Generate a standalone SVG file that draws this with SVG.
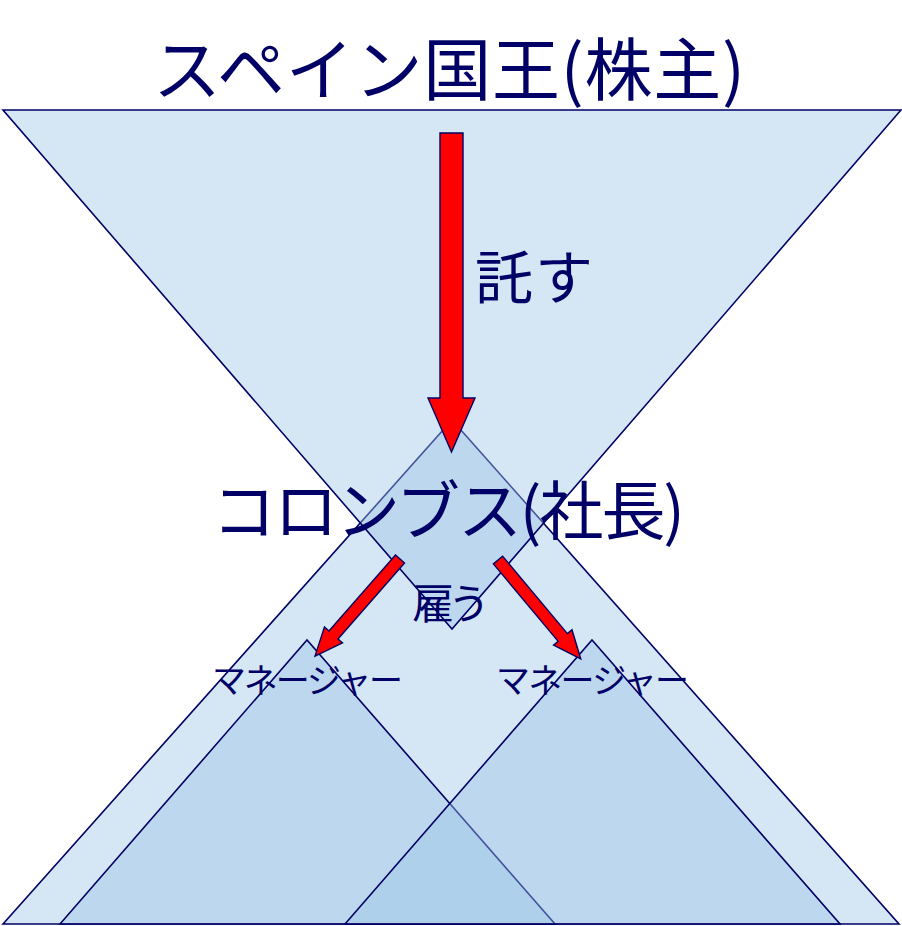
<svg xmlns="http://www.w3.org/2000/svg" width="902" height="926" viewBox="0 0 902 926">
  <style>
    .tri { fill: #9DC5E5; fill-opacity: 0.43; stroke: #000066; stroke-width: 1.6; stroke-linejoin: miter; }
    .lbl { font-family: "Noto Sans CJK JP", "Noto Sans", sans-serif; fill: #000066; }
    .arr { fill: #FF0000; stroke: #000066; stroke-width: 1.4; stroke-linejoin: miter; }
  </style>
  <rect width="902" height="926" fill="#FFFFFF"/>
  <g id="company">
    <polygon class="tri" points="3,924 452,420 899,924"/>
  </g>
  <g id="king">
    <polygon class="tri" points="3,110 901,110 452,629"/>
    <text class="lbl" x="153" y="95" font-size="68" textLength="592">スペイン国王(株主)</text>
  </g>
  <g id="manager-left">
    <polygon class="tri" points="60,924 307,640 555,924"/>
  </g>
  <g id="manager-right">
    <polygon class="tri" points="345,924 592,640 840,924"/>
  </g>
  <g id="columbus">
    <text class="lbl" x="212" y="534" font-size="64" textLength="473">コロンブス(社長)</text>
  </g>
  <g id="manager-labels">
    <text class="lbl" x="212" y="693" font-size="34" textLength="191">マネージャー</text>
    <text class="lbl" x="496" y="693" font-size="34" textLength="193">マネージャー</text>
  </g>
  <g id="connectors">
    <polygon class="arr" points="440,133 463,133 463,398 475,398 451.5,452 428,398 440,398"/>
    <polygon class="arr" transform="translate(400,559) rotate(131.2)" points="0,-6 101,-6 101,-12 129,0 101,12 101,6 0,6"/>
    <polygon class="arr" transform="translate(498,560) rotate(50.1)" points="0,-6 101,-6 101,-12 129,0 101,12 101,6 0,6"/>
    <text class="lbl" x="475" y="299" font-size="58" textLength="118">託す</text>
    <text class="lbl" x="412" y="619" font-size="42" textLength="78">雇う</text>
  </g>
</svg>
